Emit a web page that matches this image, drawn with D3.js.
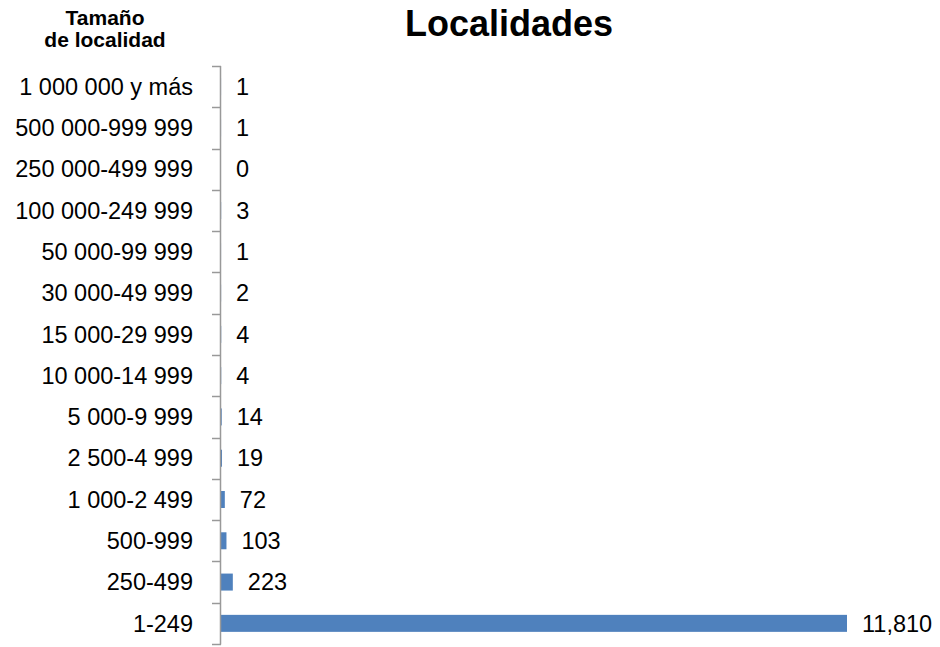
<!DOCTYPE html>
<html>
<head>
<meta charset="utf-8">
<script src="https://cdn.jsdelivr.net/npm/d3@7"></script>
<style>
  body { margin: 0; background: #fff; }
  svg { display: block; font-family: "Liberation Sans", Arial, sans-serif; }
</style>
</head>
<body>
<svg id="chart" width="940" height="647"></svg>
<script>
// Localidades por tamaño de localidad
const categories = [
  "1 000 000 y más", "500 000-999 999", "250 000-499 999", "100 000-249 999",
  "50 000-99 999", "30 000-49 999", "15 000-29 999", "10 000-14 999",
  "5 000-9 999", "2 500-4 999", "1 000-2 499", "500-999", "250-499", "1-249"
];
const values = [1, 1, 0, 3, 1, 2, 4, 4, 14, 19, 72, 103, 223, 11810];
const valueLabels = ["1", "1", "0", "3", "1", "2", "4", "4", "14", "19", "72", "103", "223", "11,810"];

const svg = d3.select("#chart");
const x0 = 221, y0 = 66, y1 = 644;

const x = d3.scaleLinear().domain([0, 11810]).range([x0, 847]);
const band = d3.scaleBand().domain(categories).range([y0, y1]);
const mid = (d) => band(d) + band.bandwidth() / 2;
const barH = 17;

// Bars
svg.append("g").selectAll("rect")
  .data(categories)
  .join("rect")
  .attr("x", x0)
  .attr("y", (d) => mid(d) - barH / 2)
  .attr("width", (d, i) => Math.max(0, x(values[i]) - x0))
  .attr("height", barH)
  .attr("fill", "#4F81BD");

// Category axis
const axisColor = "#999999";
const axisG = svg.append("g");
axisG.append("line")
  .attr("x1", x0 - 0.5).attr("x2", x0 - 0.5)
  .attr("y1", y0).attr("y2", y1 + 0.5)
  .attr("stroke", axisColor).attr("stroke-width", 1.5);
const tickPos = categories.map((d) => band(d)).concat([y1]);
axisG.selectAll("line.tick")
  .data(tickPos)
  .join("line")
  .attr("class", "tick")
  .attr("x1", x0 - 9).attr("x2", x0)
  .attr("y1", (d) => Math.round(d) + 0.5).attr("y2", (d) => Math.round(d) + 0.5)
  .attr("stroke", axisColor).attr("stroke-width", 1.5);

axisG.selectAll("text")
  .data(categories)
  .join("text")
  .attr("x", 193)
  .attr("y", mid)
  .attr("dy", "0.35em")
  .attr("text-anchor", "end")
  .attr("font-size", 23.5)
  .attr("fill", "#000")
  .text((d) => d);

// Value labels
svg.append("g").selectAll("text")
  .data(categories)
  .join("text")
  .attr("x", (d, i) => x(values[i]) + 15)
  .attr("y", mid)
  .attr("dy", "0.35em")
  .attr("font-size", 23.5)
  .attr("fill", "#000")
  .text((d, i) => valueLabels[i]);

// Title
svg.append("text")
  .attr("x", 509).attr("y", 36)
  .attr("text-anchor", "middle")
  .attr("font-size", 36)
  .attr("font-weight", "bold")
  .text("Localidades");

// Axis heading
const head = svg.append("text")
  .attr("text-anchor", "middle")
  .attr("font-size", 21)
  .attr("font-weight", "bold");
head.append("tspan").attr("x", 105).attr("y", 25).text("Tamaño");
head.append("tspan").attr("x", 105).attr("y", 47).text("de localidad");
</script>
</body>
</html>
